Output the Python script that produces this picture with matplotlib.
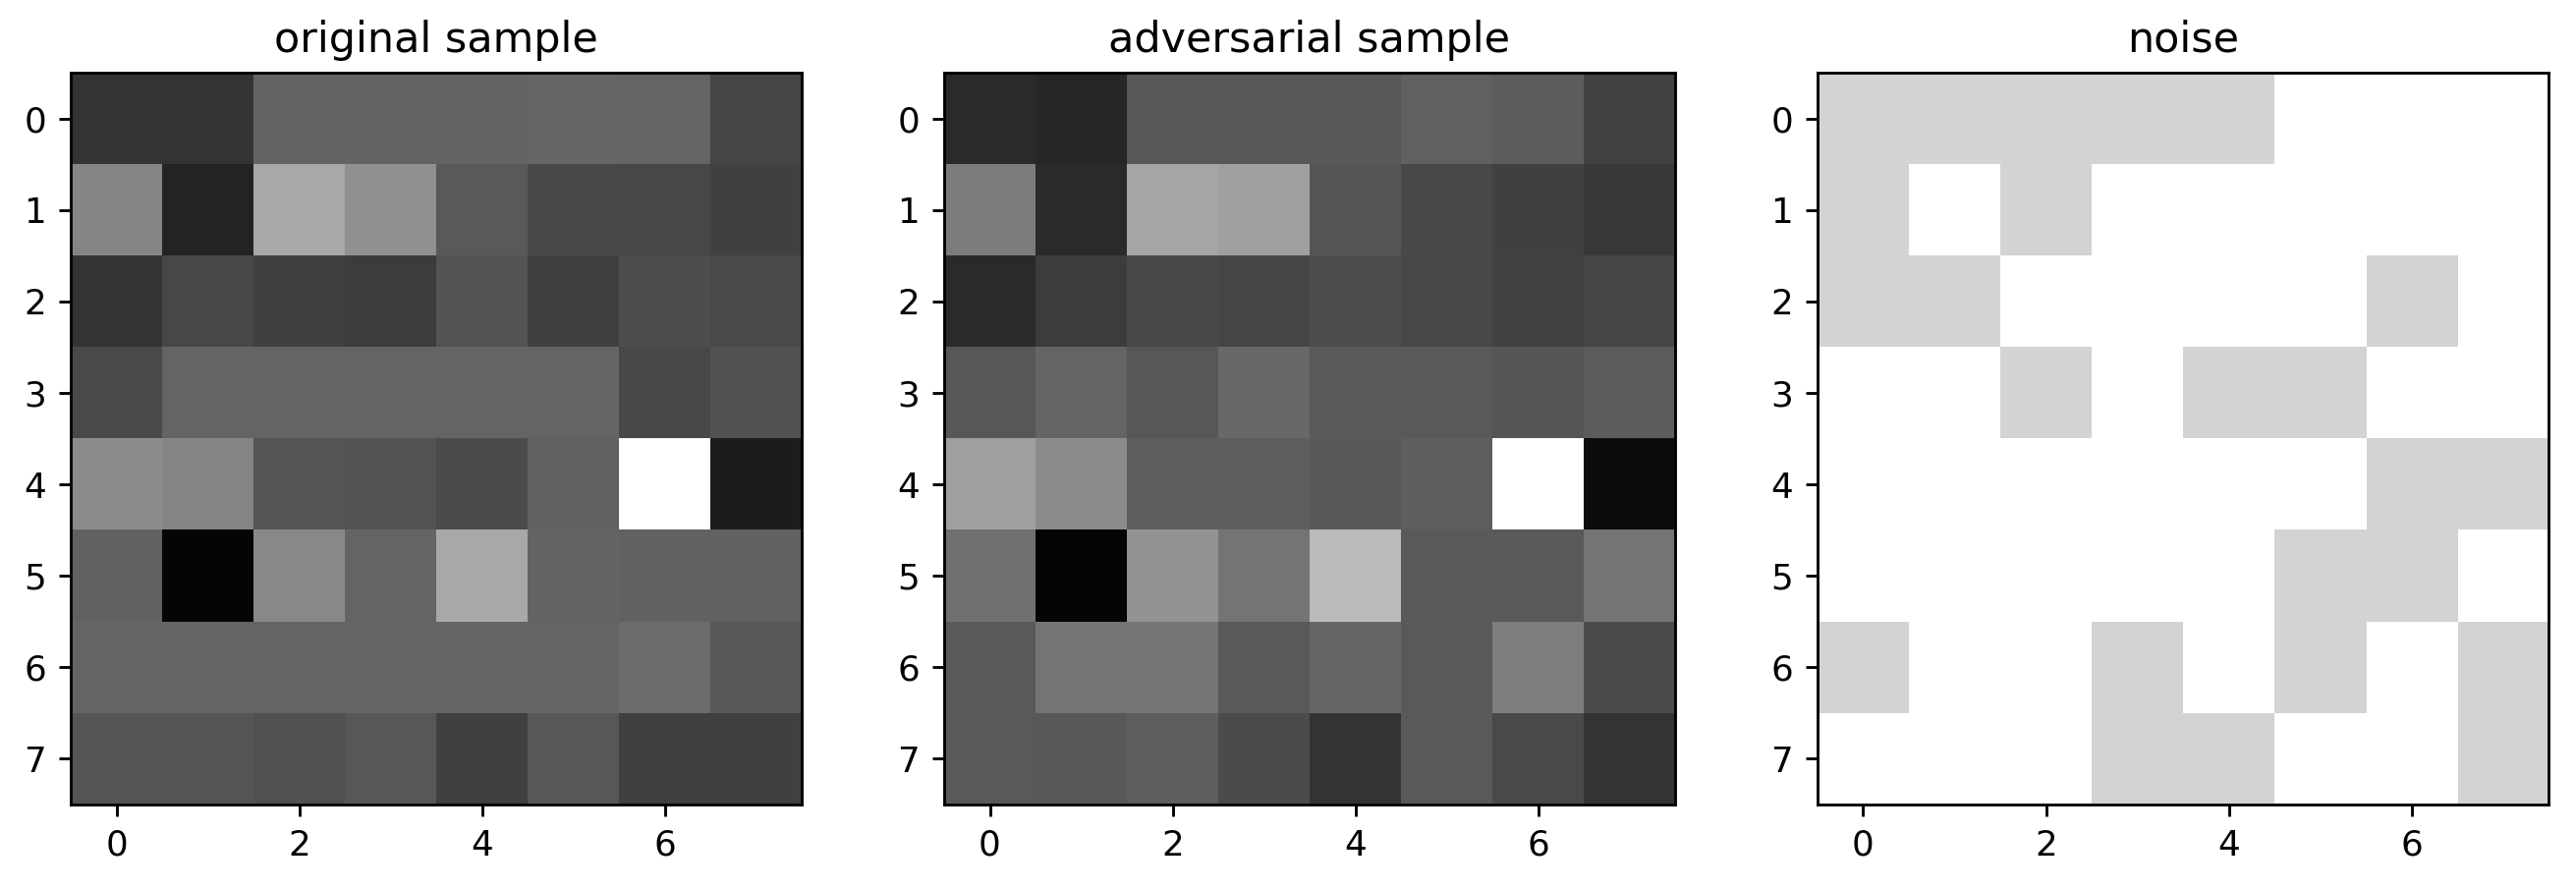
import matplotlib
matplotlib.use("Agg")
import matplotlib.pyplot as plt
from matplotlib.colors import ListedColormap
import numpy as np

titles = ["original sample", "adversarial sample", "noise"]
tick_positions = [0, 2, 4, 6]
ytick_positions = [0, 1, 2, 3, 4, 5, 6, 7]

# grey intensities (0-255)
original = [
    [51, 51, 99, 99, 99, 101, 100, 69],
    [133, 35, 168, 144, 90, 72, 71, 64],
    [52, 71, 64, 60, 83, 64, 77, 74],
    [74, 100, 100, 100, 100, 100, 72, 82],
    [140, 133, 85, 83, 75, 98, 255, 28],
    [98, 5, 136, 100, 168, 99, 98, 98],
    [100, 100, 100, 100, 100, 100, 108, 88],
    [85, 85, 82, 87, 64, 87, 64, 64],
]

adversarial = [
    [42, 38, 88, 88, 88, 96, 92, 66],
    [124, 42, 166, 160, 85, 72, 64, 56],
    [42, 60, 72, 69, 77, 72, 66, 69],
    [87, 100, 87, 104, 90, 90, 85, 92],
    [160, 140, 94, 94, 88, 94, 255, 12],
    [112, 5, 148, 116, 186, 90, 90, 116],
    [90, 116, 116, 90, 102, 90, 126, 75],
    [90, 88, 94, 75, 51, 90, 74, 51],
]

noise = [
    [1, 1, 1, 1, 1, 0, 0, 0],
    [1, 0, 1, 0, 0, 0, 0, 0],
    [1, 1, 0, 0, 0, 0, 1, 0],
    [0, 0, 1, 0, 1, 1, 0, 0],
    [0, 0, 0, 0, 0, 0, 1, 1],
    [0, 0, 0, 0, 0, 1, 1, 0],
    [1, 0, 0, 1, 0, 1, 0, 1],
    [0, 0, 0, 1, 1, 0, 0, 1],
]

DPI = 257
fig = plt.figure(figsize=(2622 / DPI, 905 / DPI), dpi=DPI)

lefts = [72 / 2622, 961 / 2622, 1850 / 2622]
bottom = (905 - 819) / 905
w = 744 / 2622
h = 745 / 905

noise_cmap = ListedColormap(["white", "lightgray"])

for i, (left, title) in enumerate(zip(lefts, titles)):
    ax = fig.add_axes([left, bottom, w, h])
    if i == 0:
        ax.imshow(np.array(original), cmap="gray", vmin=0, vmax=255, aspect="auto",
                  interpolation="nearest")
    elif i == 1:
        ax.imshow(np.array(adversarial), cmap="gray", vmin=0, vmax=255, aspect="auto",
                  interpolation="nearest")
    else:
        ax.imshow(np.array(noise), cmap=noise_cmap, vmin=0, vmax=1, aspect="auto",
                  interpolation="nearest")
    ax.set_xticks(tick_positions)
    ax.set_yticks(ytick_positions)
    ax.set_title(title)

fig.savefig("out.png", dpi=DPI)
